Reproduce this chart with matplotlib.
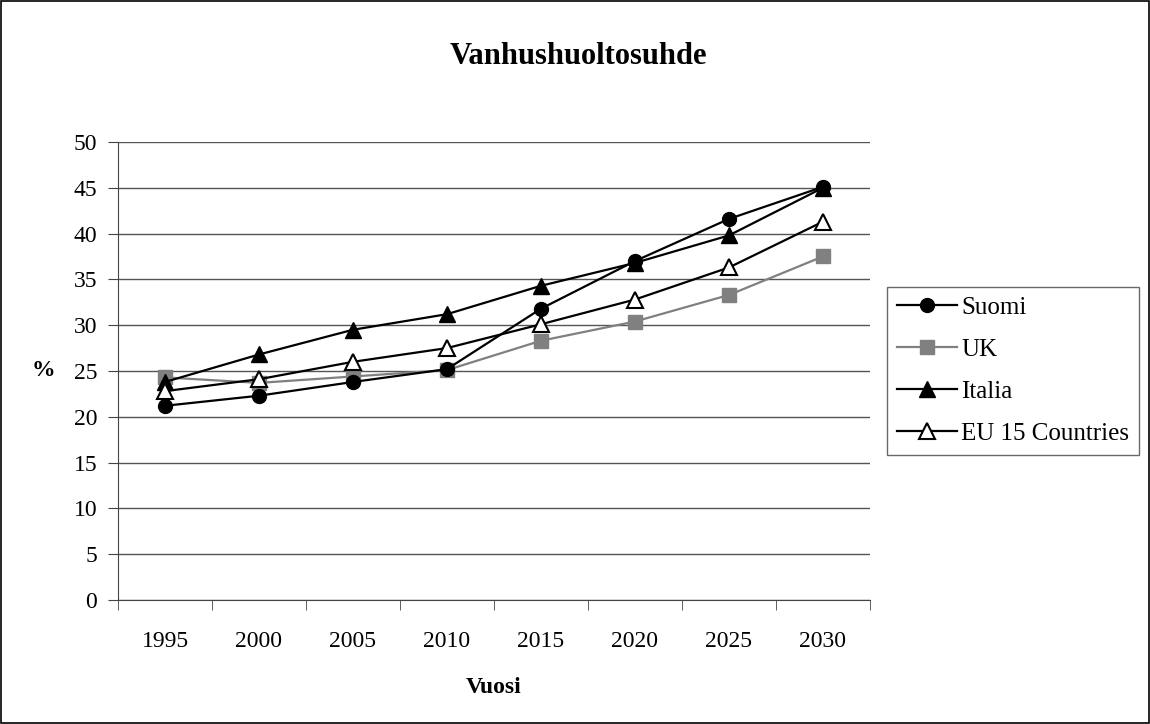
import numpy as np
import matplotlib
matplotlib.use("Agg")
import matplotlib.pyplot as plt
from matplotlib.patches import Rectangle

plt.rcParams.update({
    'font.family': 'serif',
    'font.serif': ['Liberation Serif', 'DejaVu Serif'],
    'font.size': 17,
})

# --- Data ---
years = ['1995', '2000', '2005', '2010', '2015', '2020', '2025', '2030']
suomi = [21.2, 22.3, 23.8, 25.2, 31.8, 37.0, 41.6, 45.1]
uk = [24.3, 23.7, 24.4, 25.1, 28.3, 30.4, 33.3, 37.5]
italia = [23.8, 26.8, 29.5, 31.2, 34.3, 36.8, 39.8, 45.0]
eu15 = [22.8, 24.1, 26.0, 27.5, 30.1, 32.8, 36.3, 41.3]
y_ticks = list(range(0, 55, 5))

fig = plt.figure(figsize=(11.5, 7.24), dpi=100)
ax = fig.add_axes([0.1026, 0.1713, 0.6539, 0.6326])

x = np.arange(len(years))
ax.plot(x, suomi, color='black', lw=1.6, marker='o', ms=10, mfc='black', mec='black',
        label='Suomi', zorder=5)
ax.plot(x, uk, color='#808080', lw=1.6, marker='s', ms=10, mfc='#808080', mec='#808080',
        label='UK', zorder=3)
ax.plot(x, italia, color='black', lw=1.6, marker='^', ms=11, mfc='black', mec='black',
        label='Italia', zorder=4)
ax.plot(x, eu15, color='black', lw=1.6, marker='^', ms=11, mfc='white', mec='black',
        mew=1.5, label='EU 15 Countries', zorder=4)

ax.set_xlim(-0.5, len(years) - 0.5)
ax.set_ylim(0, 50)
ax.set_yticks(y_ticks)
ax.set_xticks(x)
ax.set_xticklabels(years)
ax.set_xticks(np.arange(-0.5, len(years), 1), minor=True)
ax.tick_params(axis='x', which='major', length=0, pad=22, labelsize=17)
ax.tick_params(axis='x', which='minor', length=7, direction='out', color='#444444')
ax.tick_params(axis='y', length=7, direction='out', color='#444444', pad=8, labelsize=17)

ax.grid(axis='y', color='#555555', lw=1.0)
ax.set_axisbelow(True)
for s in ['top', 'right']:
    ax.spines[s].set_visible(False)
ax.spines['left'].set_color('#444444')
ax.spines['bottom'].set_color('#444444')

ax.set_xlabel('Vuosi', fontweight='bold', fontsize=17, labelpad=18)
ax.set_ylabel('%', fontweight='bold', fontsize=17, rotation=0, labelpad=22, va='center')

fig.text(0.503, 0.922, 'Vanhushuoltosuhde', ha='center', va='center',
         fontweight='bold', fontsize=22)

leg = ax.legend(loc='center left', bbox_to_anchor=(1.013, 0.5), frameon=True,
                fancybox=False, edgecolor='#444444', fontsize=18, handlelength=2.4,
                handletextpad=0.15, borderpad=0.4, borderaxespad=0.3,
                labelspacing=0.78)
leg.get_frame().set_linewidth(1.0)

fig.patches.append(Rectangle((0.001, 0.001), 0.998, 0.997, transform=fig.transFigure,
                             fill=False, edgecolor='black', lw=1.2))

fig.savefig('out.png', dpi=100)
